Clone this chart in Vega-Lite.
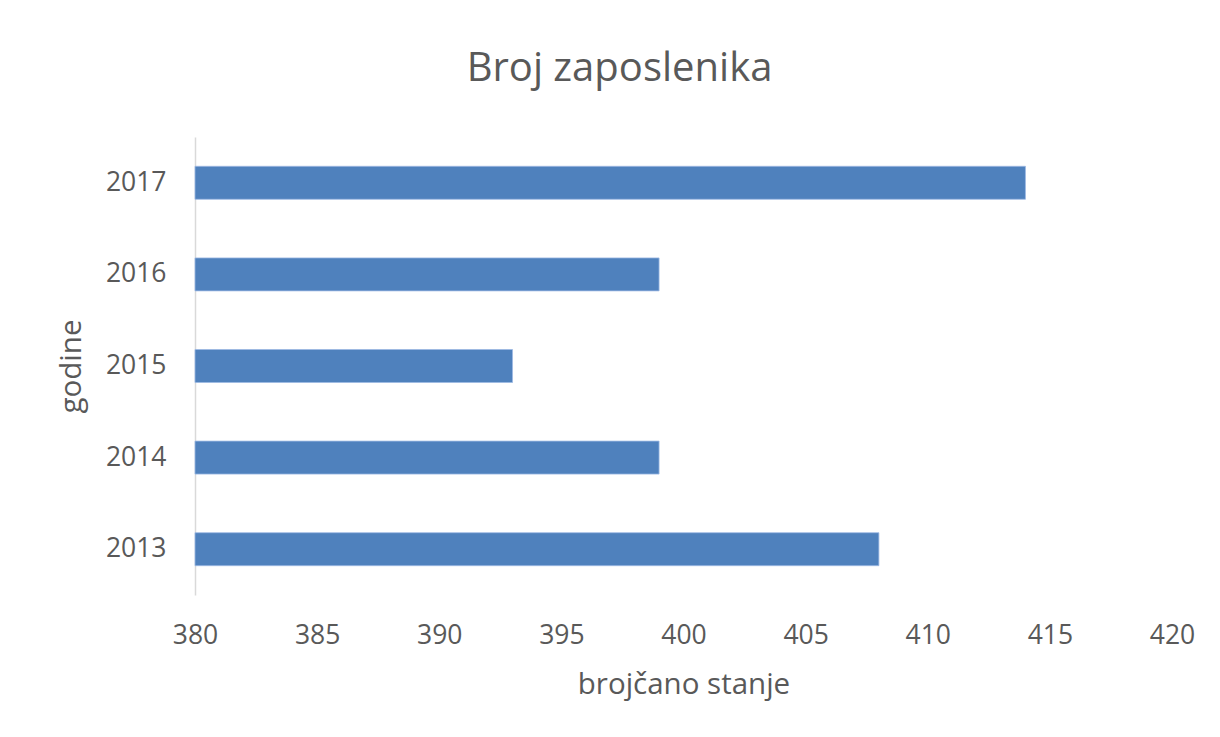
{
  "$schema": "https://vega.github.io/schema/vega-lite/v6.json",
  "width": 977,
  "height": 458,
  "autosize": {"type": "none"},
  "padding": {"left": 195, "top": 137, "right": 48, "bottom": 142},
  "background": "white",
  "title": {
    "text": "Broj zaposlenika",
    "font": "Open Sans",
    "fontSize": 40,
    "fontWeight": "normal",
    "color": "#595959",
    "anchor": "middle",
    "baseline": "alphabetic",
    "dx": -64,
    "offset": 16
  },
  "data": {
    "values": [
      {"godina": "2013", "broj": 408},
      {"godina": "2014", "broj": 399},
      {"godina": "2015", "broj": 393},
      {"godina": "2016", "broj": 399},
      {"godina": "2017", "broj": 414}
    ]
  },
  "mark": {"type": "bar", "color": "#4F81BD", "stroke": "#9DB9E3", "strokeWidth": 0.8},
  "encoding": {
    "y": {
      "field": "godina",
      "type": "nominal",
      "sort": "descending",
      "scale": {"paddingInner": 0.64, "paddingOuter": 0.32},
      "axis": {
        "title": "godine",
        "titleFont": "Open Sans",
        "titleFontSize": 29.5,
        "titleFontWeight": "normal",
        "titleColor": "#595959",
        "titlePadding": 19,
        "labelFont": "Open Sans",
        "labelFontSize": 26.5,
        "labelColor": "#595959",
        "labelPadding": 29,
        "ticks": false,
        "domain": true,
        "domainColor": "#D9D9D9",
        "domainWidth": 1.5
      }
    },
    "x": {
      "field": "broj",
      "type": "quantitative",
      "scale": {"domain": [380, 420], "zero": false, "nice": false},
      "axis": {
        "title": "brojčano stanje",
        "titleFont": "Open Sans",
        "titleFontSize": 29.5,
        "titleFontWeight": "normal",
        "titleColor": "#595959",
        "titlePadding": 22,
        "labelFont": "Open Sans",
        "labelFontSize": 26.5,
        "labelColor": "#595959",
        "labelPadding": 27,
        "labelFlush": false,
        "values": [380, 385, 390, 395, 400, 405, 410, 415, 420],
        "ticks": false,
        "domain": false,
        "grid": false
      }
    },
    "x2": {"datum": 380}
  },
  "config": {"view": {"stroke": null}}
}
